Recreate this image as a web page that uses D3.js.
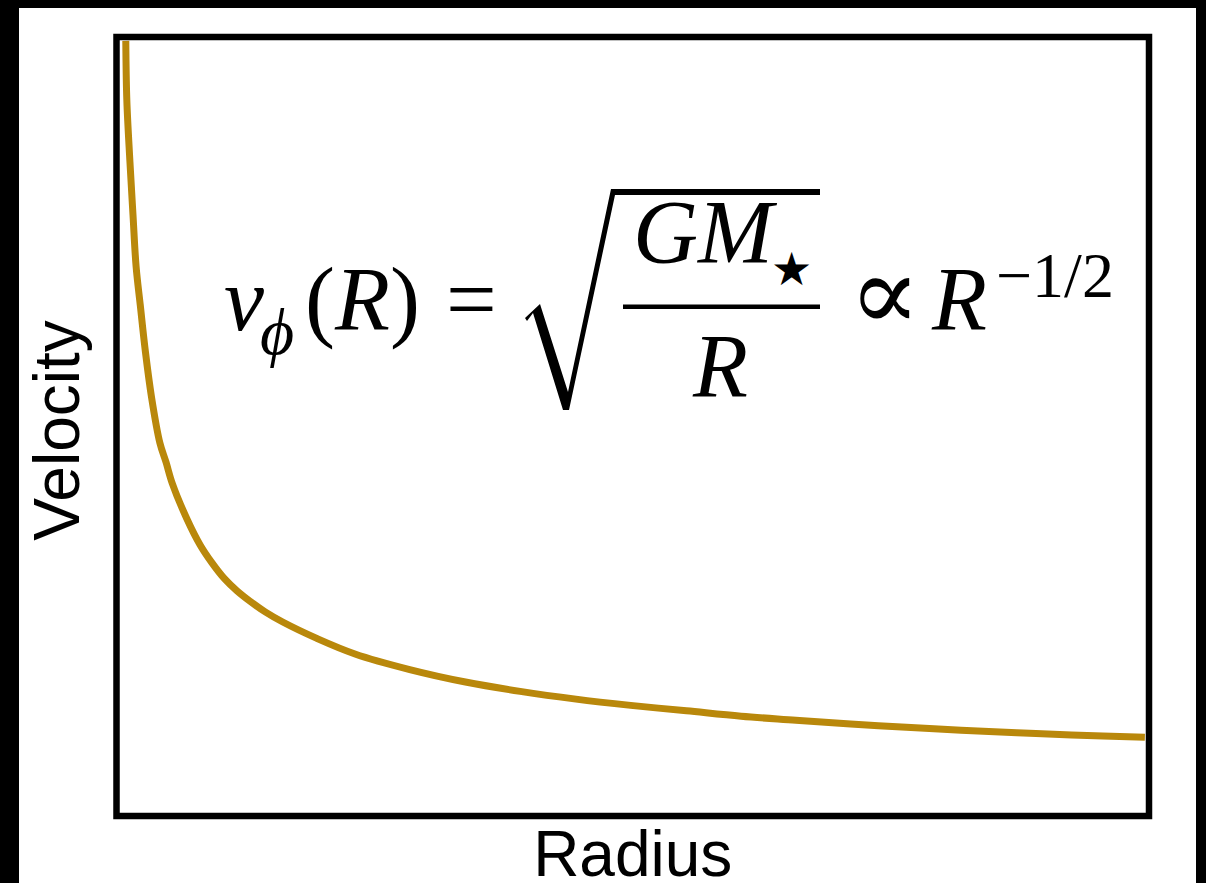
<!DOCTYPE html>
<html>
<head>
<meta charset="utf-8">
<script src="https://cdn.jsdelivr.net/npm/d3@7"></script>
<style>
  html, body { margin: 0; padding: 0; background: #000; }
  svg { display: block; }
</style>
</head>
<body>
<svg id="chart" width="1206" height="883"></svg>
<script>
// Keplerian rotation curve: velocity falls off as R^-1/2
const radius = [0.09, 0.10, 0.13, 0.16, 0.19, 0.23, 0.28, 0.34, 0.42, 0.48, 0.54, 0.68,
                0.81, 0.925, 1.05, 1.167, 1.29, 1.44, 1.61, 1.94, 2.31, 2.84, 3.38,
                3.91, 4.45, 4.98, 5.52, 6.05, 6.58, 7.11, 7.65, 8.18, 8.72, 9.25, 9.96];
const velocity = [9.95, 9.19, 8.40, 7.71, 7.05, 6.56, 5.96, 5.37, 4.79, 4.54, 4.27, 3.82,
                  3.48, 3.25, 3.04, 2.89, 2.76, 2.62, 2.49, 2.28, 2.08, 1.88, 1.72,
                  1.60, 1.50, 1.42, 1.35, 1.28, 1.23, 1.18, 1.14, 1.10, 1.07, 1.04, 1.01];
const xDomain = [0, 10];
const yDomain = [0, 10];
const xLabel = "Radius";
const yLabel = "Velocity";

const svg = d3.select("#chart");

// white page
svg.append("rect")
  .attr("x", 19).attr("y", 8)
  .attr("width", 1177).attr("height", 875)
  .attr("fill", "#fff");

const x = d3.scaleLinear().domain(xDomain).range([116.5, 1149]);
const y = d3.scaleLinear().domain(yDomain).range([816, 37]);

const pts = radius.map((r, i) => [r, velocity[i]]);

svg.append("defs").append("clipPath").attr("id", "plotClip")
  .append("rect")
  .attr("x", x.range()[0]).attr("y", y.range()[1])
  .attr("width", x.range()[1] - x.range()[0])
  .attr("height", y.range()[0] - y.range()[1]);

const line = d3.line()
  .x(d => x(d[0]))
  .y(d => y(d[1]))
  .curve(d3.curveCatmullRom.alpha(0.5));

svg.append("path")
  .datum(pts)
  .attr("clip-path", "url(#plotClip)")
  .attr("d", line)
  .attr("fill", "none")
  .attr("stroke", "#b9880b")
  .attr("stroke-width", 7)
  .attr("stroke-linecap", "butt")
  .attr("stroke-linejoin", "round");

// plot frame
svg.append("rect")
  .attr("x", x.range()[0]).attr("y", y.range()[1])
  .attr("width", x.range()[1] - x.range()[0])
  .attr("height", y.range()[0] - y.range()[1])
  .attr("fill", "none")
  .attr("stroke", "#000")
  .attr("stroke-width", 6.5);

// axis titles
const sans = "'Liberation Sans', Arial, Helvetica, sans-serif";
svg.append("text")
  .attr("x", (x.range()[0] + x.range()[1]) / 2)
  .attr("y", 876)
  .attr("text-anchor", "middle")
  .attr("font-family", sans)
  .attr("font-size", 64)
  .attr("fill", "#000")
  .text(xLabel);

svg.append("text")
  .attr("transform", `translate(79,${(y.range()[0] + y.range()[1]) / 2 + 4}) rotate(-90)`)
  .attr("text-anchor", "middle")
  .attr("font-family", sans)
  .attr("font-size", 64)
  .attr("fill", "#000")
  .text(yLabel);

// formula: v_phi(R) = sqrt(G M_star / R) ∝ R^(-1/2)
const serif = "'Liberation Serif', 'Times New Roman', 'DejaVu Serif', serif";
const eq = svg.append("g").attr("font-family", serif).attr("fill", "#000");

// left-hand side as one text run
const lhs = eq.append("text").attr("y", 330).attr("font-size", 90);
lhs.append("tspan").attr("x", 224).attr("font-style", "italic").text("v");
lhs.append("tspan").attr("x", 260).attr("y", 354).attr("font-size", 66)
  .attr("font-style", "italic").text("\u03D5");
lhs.append("tspan").attr("x", 305).attr("y", 330).text("(");
lhs.append("tspan").attr("font-style", "italic").text("R");
lhs.append("tspan").text(")");

eq.append("text")
  .attr("x", 446).attr("y", 330)
  .attr("font-size", 90)
  .text("=");

// radical sign with vinculum
eq.append("path")
  .attr("d", "M525,318 L540,304 L568,392 L611,189 L820,189 L820,195 L615,195 L569,410 L563,410 L533,313 L527,321 Z")
  .attr("fill", "#000");

// numerator G M_star
const num = eq.append("text").attr("y", 263).attr("font-size", 90);
num.append("tspan").attr("x", 633).attr("font-style", "italic").text("GM");
num.append("tspan").attr("x", 771).attr("y", 285).attr("font-size", 46)
  .attr("font-family", "'DejaVu Sans', sans-serif").text("\u2605");

// fraction bar
eq.append("rect")
  .attr("x", 623).attr("y", 304.5)
  .attr("width", 197).attr("height", 4.5);

// denominator
eq.append("text")
  .attr("x", 693).attr("y", 397)
  .attr("font-size", 90)
  .attr("font-style", "italic")
  .text("R");

// proportional-to and power law
const rhs = eq.append("text").attr("y", 330);
rhs.append("tspan").attr("x", 849).attr("font-size", 106).text("\u221D");
rhs.append("tspan").attr("x", 932).attr("font-size", 90).attr("font-style", "italic").text("R");
rhs.append("tspan").attr("x", 996).attr("y", 297).attr("font-size", 64).text("\u22121/2");
</script>
</body>
</html>
